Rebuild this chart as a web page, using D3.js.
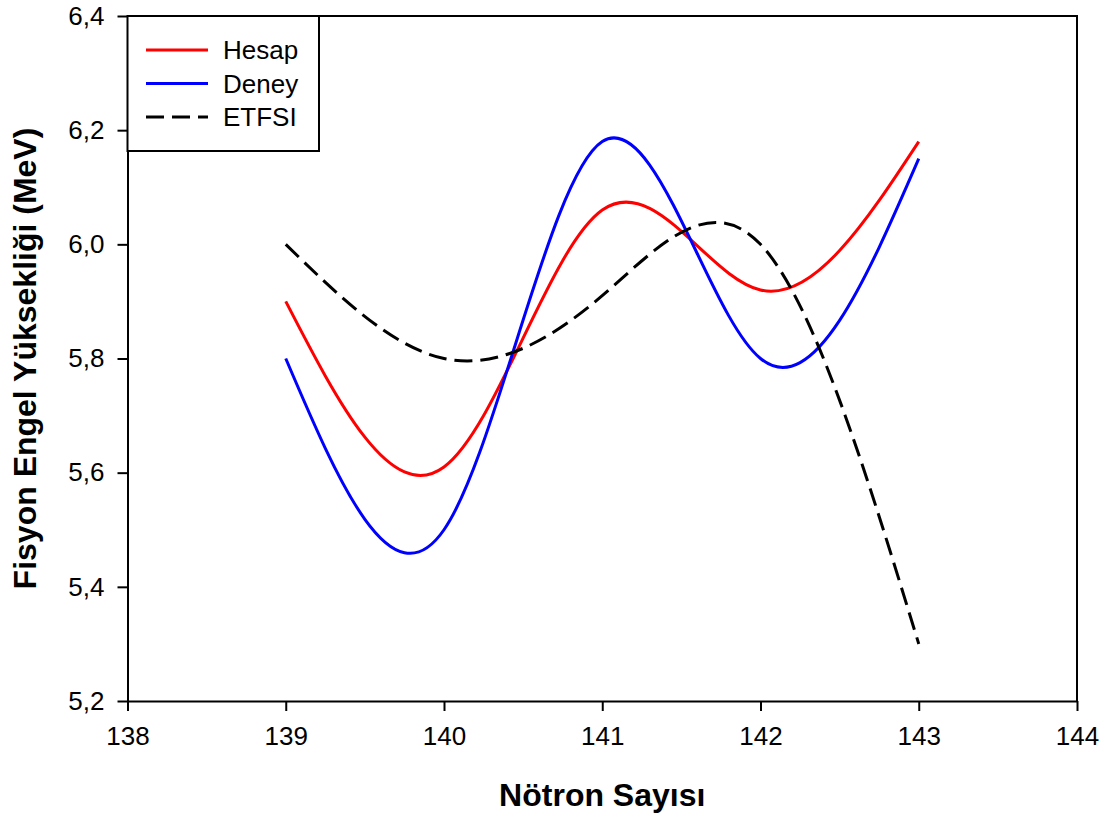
<!DOCTYPE html>
<html>
<head>
<meta charset="utf-8">
<script src="https://cdn.jsdelivr.net/npm/d3@7"></script>
<style>
  html, body { margin: 0; padding: 0; background: #fff; }
  svg text { font-family: "Liberation Sans", Arial, sans-serif; fill: #000; }
</style>
</head>
<body>
<svg id="chart" width="1107" height="820"></svg>
<script>
// ---- data ----
const neutrons = [139, 140, 141, 142, 143];
const hesap = [5.90, 5.61, 6.06, 5.92, 6.18];
const deney = [5.80, 5.50, 6.18, 5.80, 6.15];
const etfsi = [6.00, 5.80, 5.91, 6.00, 5.30];
const xTicks = [138, 139, 140, 141, 142, 143, 144];
const yTicks = [5.2, 5.4, 5.6, 5.8, 6.0, 6.2, 6.4];
const seriesNames = ["Hesap", "Deney", "ETFSI"];
const seriesColors = ["#ff0000", "#0000ff", "#000000"];
const xTitle = "Nötron Sayısı";
const yTitle = "Fisyon Engel Yüksekliği (MeV)";

const svg = d3.select("#chart");
const pLeft = 127.5, pRight = 1077, pTop = 16, pBottom = 701;

const x = d3.scaleLinear().domain([138, 144]).range([pLeft, pRight]);
const y = d3.scaleLinear().domain([5.2, 6.4]).range([pBottom, pTop]);

const fmt = d => d3.format(".1f")(d).replace(".", ",");

// frame (top and right)
svg.append("path")
  .attr("d", `M${pLeft},${pTop}H${pRight}V${pBottom}`)
  .attr("fill", "none").attr("stroke", "#000").attr("stroke-width", 2);

// axes
const xAxis = svg.append("g")
  .attr("transform", `translate(0,${pBottom})`)
  .call(d3.axisBottom(x).tickValues(xTicks).tickFormat(d3.format("d")).tickSize(10).tickPadding(16).tickSizeOuter(0));
const yAxis = svg.append("g")
  .attr("transform", `translate(${pLeft},0)`)
  .call(d3.axisLeft(y).tickValues(yTicks).tickFormat(fmt).tickSize(10).tickPadding(13).tickSizeOuter(0));

[xAxis, yAxis].forEach(g => {
  g.select(".domain").attr("stroke", "#000").attr("stroke-width", 2);
  g.selectAll(".tick line").attr("stroke", "#000").attr("stroke-width", 2);
  g.selectAll(".tick text").attr("font-size", 26).attr("font-family", "Liberation Sans, Arial, sans-serif").attr("fill", "#000");
});

// lines
const line = d3.line()
  .x((d, i) => x(neutrons[i]))
  .y(d => y(d))
  .curve(d3.curveNatural);

const allSeries = [hesap, deney, etfsi];
allSeries.forEach((vals, k) => {
  svg.append("path")
    .datum(vals)
    .attr("d", line)
    .attr("fill", "none")
    .attr("stroke", seriesColors[k])
    .attr("stroke-width", 3)
    .attr("stroke-dasharray", k === 2 ? "18,8" : null);
});

// legend
const lg = svg.append("g");
lg.append("rect")
  .attr("x", pLeft).attr("y", pTop).attr("width", 319 - pLeft).attr("height", 151 - pTop)
  .attr("fill", "#fff").attr("stroke", "#000").attr("stroke-width", 2);
seriesNames.forEach((name, k) => {
  const yy = 50 + k * 33.5;
  lg.append("line")
    .attr("x1", 146).attr("x2", 208).attr("y1", yy).attr("y2", yy)
    .attr("stroke", seriesColors[k]).attr("stroke-width", 3)
    .attr("stroke-dasharray", k === 2 ? "18,8" : null);
  lg.append("text")
    .attr("x", 223).attr("y", yy + 9)
    .attr("font-size", 26)
    .text(name);
});

// axis titles
svg.append("text")
  .attr("x", (pLeft + pRight) / 2).attr("y", 806)
  .attr("text-anchor", "middle")
  .attr("font-size", 32).attr("font-weight", "bold")
  .text(xTitle);
svg.append("text")
  .attr("transform", `translate(36,${(pTop + pBottom) / 2}) rotate(-90)`)
  .attr("text-anchor", "middle")
  .attr("font-size", 32).attr("font-weight", "bold")
  .text(yTitle);
</script>
</body>
</html>
